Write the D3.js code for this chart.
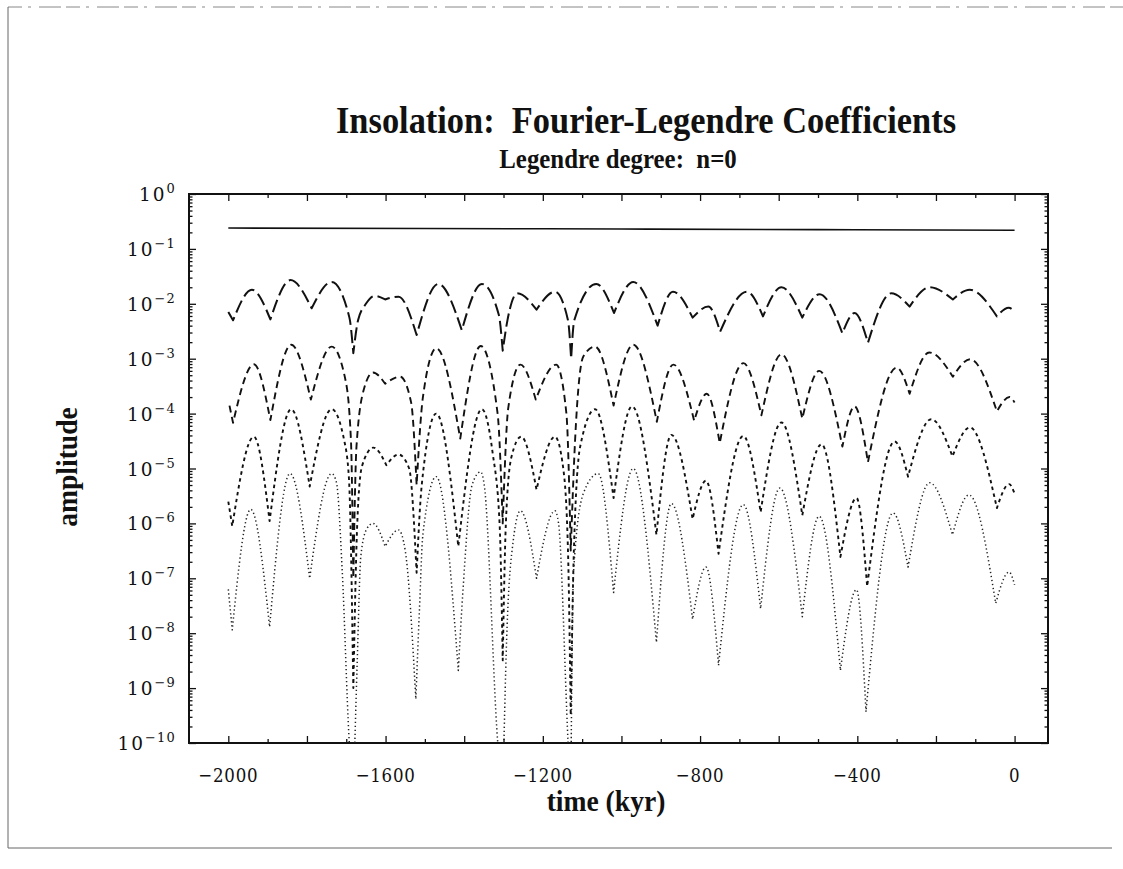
<!DOCTYPE html>
<html><head><meta charset="utf-8">
<script src="https://cdn.jsdelivr.net/npm/d3@7"></script>
<style>body{margin:0;background:#fff;} svg{display:block;}</style>
</head><body><svg id="chart" width="1123" height="869"></svg>
<script>
// ---------- data ----------
const xDomain = [-2100, 85];
const yDomain = [1, 1e-10];
const xMajorTicks = [-2000, -1800, -1600, -1400, -1200, -1000, -800, -600, -400, -200, 0];
const xMinorTicks = [-1900, -1700, -1500, -1300, -1100, -900, -700, -500, -300, -100];
const xTickLabels = [-2000, -1600, -1200, -800, -400, 0];
const yDecadeExponents = [0, -1, -2, -3, -4, -5, -6, -7, -8, -9, -10];
const yMinorMantissas = [2, 3, 4, 5, 6, 7, 8, 9];

const titleText = "Insolation:  Fourier-Legendre Coefficients";
const subtitleText = "Legendre degree:  n=0";
const xAxisTitle = "time (kyr)";
const yAxisTitle = "amplitude";

// series: [time (kyr), amplitude]
const solidSeries = [[-2000, 0.240], [-1500, 0.236], [-1000, 0.230], [-500, 0.224], [0, 0.218]];

const longDashSeries = [
  [-2000, 7.1e-3], [-1988, 5.0e-3], [-1940, 1.8e-2], [-1893, 5.2e-3], [-1842, 2.7e-2],
  [-1788, 8.3e-3], [-1737, 2.5e-2], [-1692, 5.6e-3], [-1682, 1.26e-3], [-1670, 5.0e-3],
  [-1650, 1.0e-2], [-1628, 1.4e-2], [-1601, 1.2e-2], [-1567, 1.35e-2], [-1521, 2.7e-3],
  [-1466, 2.3e-2], [-1406, 3.3e-3], [-1355, 2.3e-2], [-1312, 6.3e-3], [-1302, 1.4e-3],
  [-1290, 5.0e-3], [-1265, 1.55e-2], [-1216, 7.8e-3], [-1169, 1.66e-2], [-1136, 5.0e-3],
  [-1128, 1.0e-3], [-1120, 5.0e-3], [-1064, 2.3e-2], [-1019, 6.8e-3], [-970, 2.5e-2],
  [-908, 4.0e-3], [-869, 1.66e-2], [-819, 5.6e-3], [-779, 8.9e-3], [-749, 3.1e-3],
  [-681, 1.66e-2], [-640, 5.9e-3], [-593, 2.0e-2], [-540, 5.6e-3], [-496, 1.5e-2],
  [-438, 2.9e-3], [-407, 6.8e-3], [-373, 1.95e-3], [-314, 1.55e-2], [-267, 8.9e-3],
  [-216, 2.0e-2], [-157, 1.2e-2], [-114, 1.8e-2], [-45, 5.9e-3], [-15, 8.5e-3], [0, 7.2e-3]
];

const mediumDashSeries = [
  [-1997, 1.4e-4], [-1988, 6.8e-5], [-1935, 7.9e-4], [-1893, 7.6e-5], [-1840, 1.8e-3],
  [-1790, 1.8e-4], [-1737, 1.66e-3], [-1702, 4.1e-4], [-1688, 3.2e-5], [-1682, 1.0e-7],
  [-1674, 2.5e-5], [-1655, 2.8e-4], [-1632, 5.6e-4], [-1601, 3.5e-4], [-1563, 4.7e-4],
  [-1535, 1.6e-4], [-1521, 5.0e-6], [-1505, 2.0e-4], [-1471, 1.55e-3], [-1410, 3.5e-5],
  [-1358, 1.7e-3], [-1315, 1.0e-4], [-1302, 1.0e-6], [-1288, 1.26e-4], [-1257, 7.8e-4],
  [-1218, 1.8e-4], [-1166, 7.8e-4], [-1140, 1.0e-4], [-1129, 3.2e-7], [-1118, 3.2e-5],
  [-1097, 1.1e-3], [-1067, 1.66e-3], [-1020, 1.4e-4], [-970, 1.8e-3], [-910, 7.1e-5],
  [-868, 7.8e-4], [-815, 7.4e-5], [-783, 2.3e-4], [-750, 2.9e-5], [-690, 8.3e-4],
  [-644, 9.3e-5], [-593, 1.2e-3], [-540, 8.1e-5], [-497, 6.0e-4], [-438, 2.5e-5],
  [-407, 1.35e-4], [-373, 1.3e-5], [-300, 6.9e-4], [-267, 2.3e-4], [-217, 1.3e-3],
  [-157, 4.7e-4], [-113, 9.8e-4], [-45, 1.1e-4], [-13, 2.0e-4], [0, 1.6e-4]
];

const shortDashSeries = [
  [-2000, 2.5e-6], [-1990, 8.9e-7], [-1935, 3.8e-5], [-1895, 1.1e-6], [-1840, 1.2e-4],
  [-1793, 4.7e-6], [-1737, 1.2e-4], [-1705, 3.2e-5], [-1693, 6.3e-6], [-1682, 1.0e-9],
  [-1672, 1.0e-6], [-1660, 1.1e-5], [-1631, 2.4e-5], [-1598, 1.15e-5], [-1567, 1.8e-5],
  [-1540, 1.0e-5], [-1521, 1.26e-7], [-1508, 5.0e-6], [-1471, 1.0e-4], [-1415, 3.8e-7],
  [-1355, 1.2e-4], [-1328, 2.0e-5], [-1310, 1.0e-6], [-1302, 3.2e-9], [-1294, 1.0e-6],
  [-1280, 1.6e-5], [-1255, 3.8e-5], [-1216, 4.1e-6], [-1169, 3.8e-5], [-1148, 1.0e-5],
  [-1136, 3.2e-7], [-1129, 3.2e-10], [-1121, 3.2e-7], [-1105, 2.5e-5], [-1067, 1.2e-4],
  [-1020, 2.9e-6], [-973, 1.35e-4], [-911, 6.2e-7], [-873, 4.1e-5], [-819, 1.2e-6],
  [-785, 6.0e-6], [-753, 2.8e-7], [-690, 3.9e-5], [-646, 1.6e-6], [-593, 6.9e-5],
  [-540, 1.4e-6], [-491, 2.75e-5], [-443, 2.45e-7], [-402, 2.9e-6], [-375, 7.1e-8],
  [-305, 3.1e-5], [-271, 7.1e-6], [-212, 7.9e-5], [-158, 1.66e-5], [-114, 5.6e-5],
  [-45, 1.9e-6], [-14, 5.2e-6], [0, 3.5e-6]
];

const dottedSeries = [
  [-2000, 6.3e-8], [-1990, 1.15e-8], [-1943, 1.8e-6], [-1895, 1.3e-8], [-1843, 8.1e-6],
  [-1793, 1.0e-7], [-1737, 8.1e-6], [-1725, 5.6e-6], [-1710, 1.26e-7], [-1693, 1.26e-10],
  [-1682, 1e-11], [-1672, 3.2e-9], [-1663, 2.5e-7], [-1648, 7.9e-7], [-1632, 1.0e-6],
  [-1601, 3.8e-7], [-1567, 7.6e-7], [-1550, 3.2e-7], [-1523, 6.3e-10], [-1514, 2.5e-8],
  [-1505, 6.3e-7], [-1471, 7.1e-6], [-1415, 2.1e-9], [-1403, 6.2e-8], [-1380, 5.0e-6],
  [-1358, 8.7e-6], [-1349, 5.0e-6], [-1315, 1.1e-10], [-1302, 1e-11], [-1292, 7.9e-9],
  [-1275, 5.0e-7], [-1257, 1.7e-6], [-1216, 1.0e-7], [-1169, 1.7e-6], [-1160, 1.0e-6],
  [-1136, 1.1e-10], [-1129, 1e-11], [-1122, 1.26e-7], [-1097, 3.5e-6], [-1059, 8.1e-6],
  [-1020, 5.5e-8], [-970, 1.0e-5], [-911, 6.8e-9], [-873, 2.3e-6], [-819, 1.8e-8],
  [-785, 1.6e-7], [-753, 2.6e-9], [-690, 2.2e-6], [-646, 2.8e-8], [-597, 4.4e-6],
  [-540, 2.0e-8], [-497, 1.35e-6], [-443, 2.1e-9], [-402, 6.2e-8], [-378, 3.7e-10],
  [-309, 1.55e-6], [-271, 1.6e-7], [-216, 5.5e-6], [-158, 6.2e-7], [-116, 3.3e-6],
  [-48, 3.5e-8], [-14, 1.3e-7], [0, 7.6e-8]
];

// ---------- drawing ----------
const svg = d3.select("#chart");
const x = d3.scaleLinear().domain(xDomain).range([189, 1048]);
const y = d3.scaleLog().domain(yDomain).range([194, 743]);
const ink = "#111";
const serifBold = "Liberation Serif, Times New Roman, serif";

// page border (scan edge)
svg.append("line").attr("x1", 8).attr("x2", 1123).attr("y1", 7).attr("y2", 7)
  .attr("stroke", "#888").attr("stroke-width", 1).attr("stroke-dasharray", "14,6,3,8,22,5");
svg.append("line").attr("x1", 8).attr("x2", 8).attr("y1", 7).attr("y2", 848)
  .attr("stroke", "#666").attr("stroke-width", 1);
svg.append("line").attr("x1", 8).attr("x2", 1112).attr("y1", 848).attr("y2", 848)
  .attr("stroke", "#666").attr("stroke-width", 1);

// titles (condensed bold serif)
function condensedText(txt, cx, by, size, sx) {
  svg.append("text").attr("transform", `translate(${cx},${by}) scale(${sx},1)`)
    .attr("text-anchor", "middle").attr("font-family", serifBold).attr("font-weight", "bold")
    .attr("font-size", size).style("white-space", "pre").attr("fill", ink).text(txt);
}
condensedText(titleText, 646, 133, 37, 0.93);
condensedText(subtitleText, 618, 168, 27, 0.92);
condensedText(xAxisTitle, 606, 811, 30, 0.92);
svg.append("text").attr("transform", "translate(77,467) rotate(-90) scale(0.92,1)").attr("text-anchor", "middle")
  .attr("font-family", serifBold).attr("font-weight", "bold")
  .attr("font-size", 30).attr("fill", ink).text(yAxisTitle);

// clip
svg.append("clipPath").attr("id", "plotclip").append("rect")
  .attr("x", x(xDomain[0])).attr("y", y(yDomain[0]))
  .attr("width", x(xDomain[1]) - x(xDomain[0])).attr("height", y(yDomain[1]) - y(yDomain[0]));

// ticks (inward, all four sides)
const yMajor = yDecadeExponents.map(e => Math.pow(10, e));
const yMinor = [];
yDecadeExponents.slice(1).forEach(e => yMinorMantissas.forEach(m => yMinor.push(m * Math.pow(10, e))));

function tickAxis(axisFn, scale, values, size, transform) {
  const g = svg.append("g").attr("transform", transform)
    .call(axisFn(scale).tickValues(values).tickSize(-size).tickFormat(""));
  g.select(".domain").remove();
  g.selectAll("line").attr("stroke", ink).attr("stroke-width", 1.3);
}
const L = x(xDomain[0]), R = x(xDomain[1]), T = y(yDomain[0]), B = y(yDomain[1]);
tickAxis(d3.axisBottom, x, xMajorTicks, 7, `translate(0,${B})`);
tickAxis(d3.axisBottom, x, xMinorTicks, 4, `translate(0,${B})`);
tickAxis(d3.axisTop, x, xMajorTicks, 7, `translate(0,${T})`);
tickAxis(d3.axisTop, x, xMinorTicks, 4, `translate(0,${T})`);
tickAxis(d3.axisLeft, y, yMajor, 7, `translate(${L},0)`);
tickAxis(d3.axisLeft, y, yMinor, 3.5, `translate(${L},0)`);
tickAxis(d3.axisRight, y, yMajor, 7, `translate(${R},0)`);
tickAxis(d3.axisRight, y, yMinor, 3.5, `translate(${R},0)`);

// frame
svg.append("rect").attr("x", L).attr("y", T).attr("width", R - L).attr("height", B - T)
  .attr("fill", "none").attr("stroke", ink).attr("stroke-width", 2);

// tick labels
const labelFont = "DejaVu Serif, serif";
svg.append("g").selectAll("text").data(xTickLabels).join("text")
  .attr("transform", d => `translate(${x(d)},782) scale(0.9,1.05)`).attr("text-anchor", "middle")
  .attr("font-family", labelFont).attr("font-size", 18.5).attr("fill", ink)
  .attr("letter-spacing", 0.8)
  .text(d => d < 0 ? "\u2212" + Math.abs(d) : String(d));

const yl = svg.append("g").selectAll("text").data(yDecadeExponents).join("text")
  .attr("x", 176).attr("y", d => y(Math.pow(10, d)) + 7).attr("text-anchor", "end")
  .attr("font-family", labelFont).attr("fill", ink);
yl.append("tspan").attr("font-size", 18.5).attr("letter-spacing", 2).text("10");
yl.append("tspan").attr("font-size", 13).attr("dy", -8).attr("letter-spacing", 1.2)
  .text(d => d < 0 ? "\u2212" + Math.abs(d) : String(d));

// curves: split each series at local minima so dips stay sharp cusps
function cuspPath(data) {
  const pts = data.map(d => [x(d[0]), y(d[1])]);
  const cuts = [0];
  for (let i = 1; i < pts.length - 1; i++) {
    if (pts[i][1] > pts[i - 1][1] && pts[i][1] > pts[i + 1][1]) cuts.push(i);
  }
  cuts.push(pts.length - 1);
  const p = d3.path();
  let started = false;
  const ctx = {
    moveTo(a, b) { if (!started) { p.moveTo(a, b); started = true; } else p.lineTo(a, b); },
    lineTo(a, b) { p.lineTo(a, b); },
    bezierCurveTo(a, b, c, d, e, f) { p.bezierCurveTo(a, b, c, d, e, f); },
    closePath() { p.closePath(); }
  };
  const line = d3.line().curve(d3.curveMonotoneX).context(ctx);
  for (let k = 0; k < cuts.length - 1; k++) line(pts.slice(cuts[k], cuts[k + 1] + 1));
  return p.toString();
}

const plot = svg.append("g").attr("clip-path", "url(#plotclip)");
const seriesStyles = [
  { data: solidSeries, dash: null, width: 1.6, color: ink },
  { data: longDashSeries, dash: "13,5", width: 2.0, color: ink },
  { data: mediumDashSeries, dash: "7,4.5", width: 1.9, color: ink },
  { data: shortDashSeries, dash: "3.5,3.5", width: 1.9, color: ink },
  { data: dottedSeries, dash: "1.3,2.7", width: 1.5, color: "#222" }
];
seriesStyles.forEach(s => {
  plot.append("path").attr("d", cuspPath(s.data)).attr("fill", "none")
    .attr("stroke", s.color).attr("stroke-width", s.width)
    .attr("stroke-dasharray", s.dash).attr("stroke-linejoin", "round");
});
</script></body></html>
